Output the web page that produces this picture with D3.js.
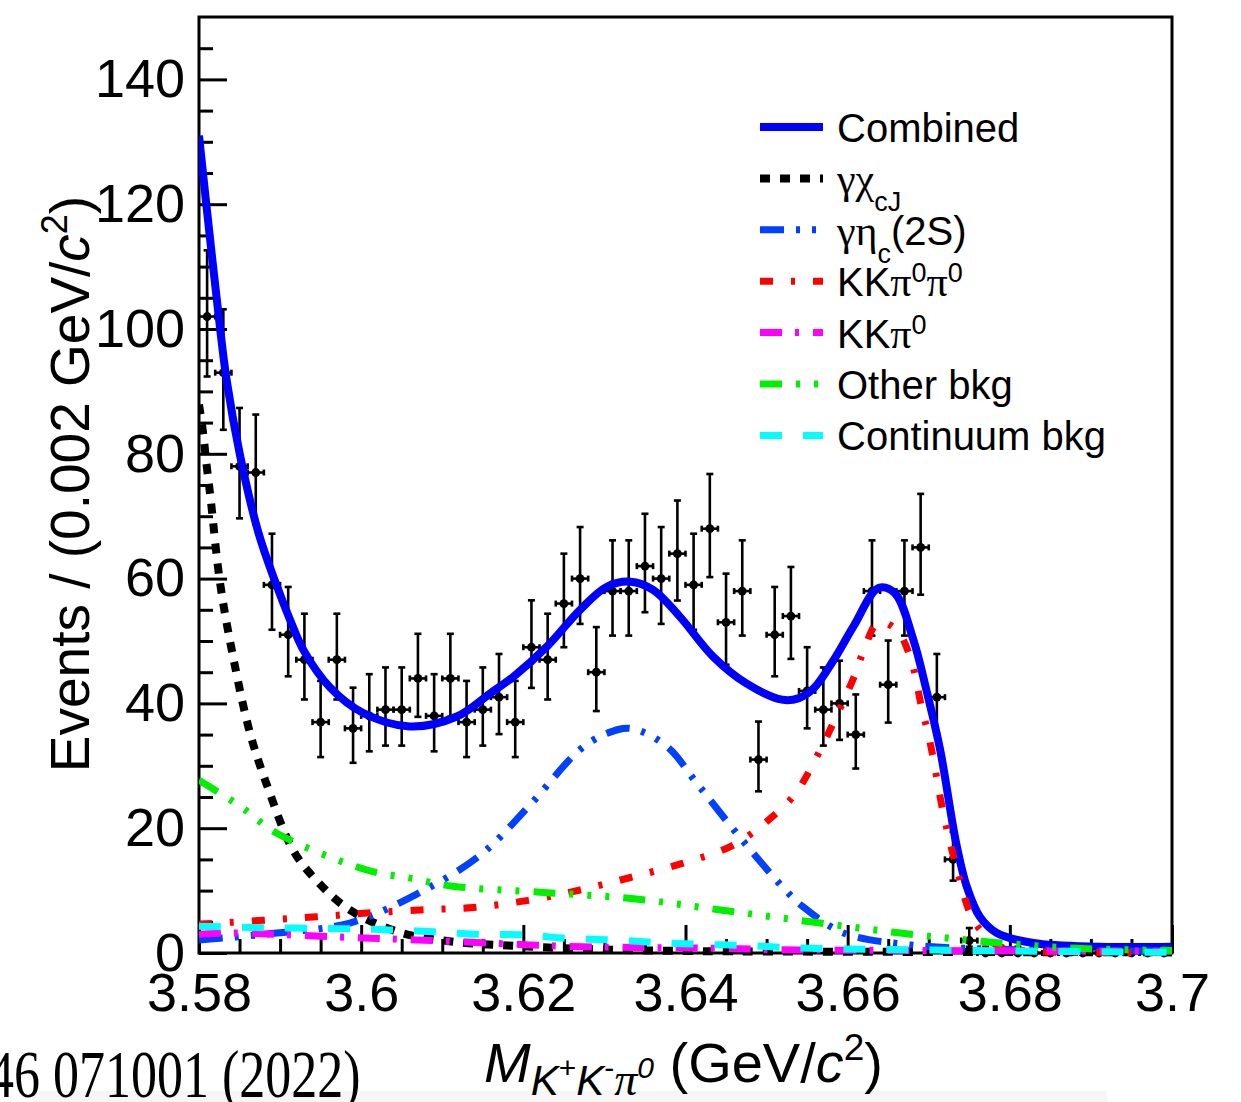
<!DOCTYPE html>
<html>
<head>
<meta charset="utf-8">
<script src="https://cdn.jsdelivr.net/npm/d3@7"></script>
<style>
  body { margin: 0; background: #fff; }
  svg { display: block; font-family: "Liberation Sans", Arial, Helvetica, sans-serif; }
</style>
</head>
<body>
<svg id="chart" width="1241" height="1102"></svg>
<script>
// ---- Data: M(K+K-pi0) spectrum, 0.002 GeV/c^2 bins ----
const binCentres = [
  3.581, 3.583, 3.585, 3.587, 3.589, 3.591, 3.593, 3.595, 3.597, 3.599,
  3.601, 3.603, 3.605, 3.607, 3.609, 3.611, 3.613, 3.615, 3.617, 3.619,
  3.621, 3.623, 3.625, 3.627, 3.629, 3.631, 3.633, 3.635, 3.637, 3.639,
  3.641, 3.643, 3.645, 3.647, 3.649, 3.651, 3.653, 3.655, 3.657, 3.659,
  3.661, 3.663, 3.665, 3.667, 3.669, 3.671, 3.673, 3.675, 3.677, 3.679,
  3.681, 3.683, 3.685, 3.687, 3.689, 3.691, 3.693, 3.695, 3.697, 3.699
];
const binHalfWidth = 0.001;
const counts = [
  102, 93, 78, 77, 59, 51, 47, 37, 47, 36,
  38, 39, 39, 44, 38, 44, 37, 39, 41, 37,
  49, 47, 56, 60, 45, 58, 58, 62, 60, 64,
  59, 68, 53, 58, 31, 51, 54, 42, 39, 40,
  35, 58, 43, 58, 65, 41, 15, 2, 0, 0,
  0, 0, 0, 0, 0, 0, 0, 0, 0, 0
];

// Fit curves: [mass, events per bin]
const combinedCurve = [
  [3.5800,131],[3.5809,120],[3.5822,104.7],[3.5834,91.9],[3.5851,79.5],[3.5873,67.5],
  [3.5894,59.5],[3.5912,53.5],[3.5929,48.5],[3.5962,42.5],[3.6002,38.5],[3.6060,36.3],
  [3.6118,37.9],[3.6159,41.6],[3.6188,44.3],[3.6229,49.1],[3.6270,55],[3.6303,58.7],
  [3.6332,59.5],[3.6360,58.2],[3.6393,53.9],[3.6434,47.5],[3.6475,43.2],[3.6519,40.6],
  [3.6539,40.8],[3.6558,42.4],[3.6582,46.8],[3.6607,52.3],[3.6638,58.5],[3.6658,57.7],
  [3.6681,50.2],[3.6697,42.2],[3.6714,32.6],[3.6734,17.5],[3.6747,10.6],[3.6763,5.8],
  [3.6784,3.2],[3.6829,1.6],[3.6911,1.0],[3.7000,1.0]
];
const chiCJCurve = [
  [3.5800,87.9],[3.5805,83.4],[3.5809,78.6],[3.5814,73.2],[3.5826,59.3],[3.5842,47.5],
  [3.5863,35.2],[3.5883,27.2],[3.5916,16.5],[3.5945,11.6],[3.5986,6.9],[3.6048,3.3],
  [3.6114,1.8],[3.6181,1.2],[3.6245,0.8],[3.6311,0.5],[3.6418,0.3],[3.6603,0.2],[3.7000,0.1]
];
const etaC2SCurve = [
  [3.5800,2.1],[3.5896,3.2],[3.5986,4.8],[3.6068,9.4],[3.6147,15.7],[3.6208,23.7],
  [3.6270,32.6],[3.6303,35.2],[3.6332,36],[3.6377,33.1],[3.6414,27.2],[3.6463,19.2],
  [3.6521,10.4],[3.6545,7.4],[3.6595,3.2],[3.6677,1.3],[3.6788,0.6],[3.7000,0.3]
];
const kkPi0Pi0Curve = [
  [3.5800,4.6],[3.5945,5.8],[3.6007,6.4],[3.6073,6.9],[3.6138,7.3],[3.6204,8.4],
  [3.6270,10.1],[3.6332,12.1],[3.6397,14.4],[3.6459,17.3],[3.6512,22.4],[3.6537,25.8],
  [3.6566,32.5],[3.6582,36.8],[3.6609,44.6],[3.6619,48.2],[3.6638,53],[3.6660,51.8],
  [3.6677,47.5],[3.6691,39.5],[3.6702,33.5],[3.6718,22.4],[3.6734,13.8],[3.6753,5.8],
  [3.6771,2.6],[3.6788,1.0],[3.6825,0.3],[3.7000,0.1]
];
const kkPi0Curve = [
  [3.5800,3.0],[3.5842,3.2],[3.5965,2.6],[3.6068,2.1],[3.6208,1.3],[3.6274,1.0],
  [3.6335,0.9],[3.6434,0.75],[3.6541,0.5],[3.7000,0.3]
];
const otherBkgCurve = [
  [3.5800,27.7],[3.5851,23.5],[3.5896,19.2],[3.6007,13.3],[3.6064,11.9],[3.6113,10.7],
  [3.6225,9.7],[3.6336,8.7],[3.6443,6.9],[3.6554,5.0],[3.6665,3.2],[3.6771,1.8],
  [3.6882,0.75],[3.7000,0.4]
];
const continuumCurve = [
  [3.5800,4.3],[3.5863,4.1],[3.5974,3.9],[3.6036,3.7],[3.6089,3.4],[3.6144,3.0],
  [3.6200,2.9],[3.6254,2.35],[3.6311,2.1],[3.6365,1.65],[3.6418,1.4],[3.6476,1.2],
  [3.6529,0.85],[3.6554,0.75],[3.6788,0.35],[3.7000,0.1]
];

// Axis ticks
const xTickValues = [3.58, 3.60, 3.62, 3.64, 3.66, 3.68, 3.70];
const xTickLabels = ["3.58", "3.6", "3.62", "3.64", "3.66", "3.68", "3.7"];
const xMinorTicks = [3.585, 3.59, 3.595, 3.605, 3.61, 3.615, 3.625, 3.63, 3.635,
  3.645, 3.65, 3.655, 3.665, 3.67, 3.675, 3.685, 3.69, 3.695];
const yTickValues = [0, 20, 40, 60, 80, 100, 120, 140];
const yMinorTicks = [5, 10, 15, 25, 30, 35, 45, 50, 55, 65, 70, 75, 85, 90, 95,
  105, 110, 115, 125, 130, 135, 145];

// Curve styles (drawn in this order)
const components = [
  { key: "combined", data: combinedCurve, color: "#0000ff", width: 8, dash: null },
  { key: "chicj", data: chiCJCurve, color: "#000000", width: 8, dash: "10,10" },
  { key: "etac2s", data: etaC2SCurve, color: "#0040ff", width: 7, dash: "24,12,4,12,4,12" },
  { key: "kkpi0pi0", data: kkPi0Pi0Curve, color: "#ff0000", width: 7, dash: "13,18,4,18" },
  { key: "kkpi0", data: kkPi0Curve, color: "#ff00ff", width: 7, dash: "22,13,4,14" },
  { key: "other", data: otherBkgCurve, color: "#00f000", width: 7, dash: "22,14,4,14,4,14,4,14" },
  { key: "continuum", data: continuumCurve, color: "#00ffff", width: 7, dash: "22,21" }
];

// ---- Layout ----
const frame = { left: 199, right: 1172, top: 17, bottom: 953 };
const svg = d3.select("#chart");
const serif = '"Liberation Serif", "Times New Roman", serif';

const x = d3.scaleLinear().domain([3.58, 3.70]).range([frame.left, frame.right]);
const y = d3.scaleLinear().domain([0, 150]).range([frame.bottom, frame.top]);

// Faint strip along the bottom edge
svg.append("rect").attr("x", 33).attr("y", 1091).attr("width", 1074).attr("height", 11)
  .attr("fill", "#f6f6f6");

// Axes with inward ticks
const yAxis = svg.append("g").attr("transform", `translate(${frame.left},0)`)
  .call(d3.axisLeft(y).tickValues(yTickValues).tickSize(-28).tickPadding(14)
    .tickFormat(d3.format("d")));
const yMinor = svg.append("g").attr("transform", `translate(${frame.left},0)`)
  .call(d3.axisLeft(y).tickValues(yMinorTicks).tickSize(-14).tickFormat(""));
const xAxis = svg.append("g").attr("transform", `translate(0,${frame.bottom})`)
  .call(d3.axisBottom(x).tickValues(xTickValues).tickSize(-28).tickPadding(20)
    .tickFormat((d, i) => xTickLabels[i]));
const xMinor = svg.append("g").attr("transform", `translate(0,${frame.bottom})`)
  .call(d3.axisBottom(x).tickValues(xMinorTicks).tickSize(-14).tickFormat(""));

[yAxis, yMinor, xAxis, xMinor].forEach(g => {
  g.select(".domain").remove();
  g.selectAll(".tick line").attr("stroke", "#000").attr("stroke-width", 3);
  g.selectAll(".tick text").attr("fill", "#000").attr("font-size", 54)
    .attr("font-family", '"Liberation Sans", Arial, Helvetica, sans-serif');
});

// Frame
svg.append("rect")
  .attr("x", frame.left).attr("y", frame.top)
  .attr("width", frame.right - frame.left).attr("height", frame.bottom - frame.top)
  .attr("fill", "none").attr("stroke", "#000").attr("stroke-width", 3);

// Clip for plotted content
svg.append("clipPath").attr("id", "plotClip").append("rect")
  .attr("x", frame.left).attr("y", frame.top)
  .attr("width", frame.right - frame.left).attr("height", frame.bottom - frame.top + 8);

// ---- Data points with Poisson-style error bars ----
const points = binCentres.map((m, i) => {
  const n = counts[i];
  const s = Math.sqrt(n + 0.25);
  return { m, n, hi: n + s + 0.5, lo: Math.max(0, n - s + 0.5) };
});
const gData = svg.append("g").attr("clip-path", "url(#plotClip)")
  .attr("stroke", "#000").attr("stroke-width", 2.6);
const pt = gData.selectAll("g.pt").data(points).join("g").attr("class", "pt");
pt.append("line")
  .attr("x1", d => x(d.m)).attr("x2", d => x(d.m))
  .attr("y1", d => y(d.lo)).attr("y2", d => y(d.hi));
pt.append("line")
  .attr("x1", d => x(d.m - binHalfWidth)).attr("x2", d => x(d.m + binHalfWidth))
  .attr("y1", d => y(d.n)).attr("y2", d => y(d.n));
pt.append("line")
  .attr("x1", d => x(d.m) - 3.5).attr("x2", d => x(d.m) + 3.5)
  .attr("y1", d => y(d.hi)).attr("y2", d => y(d.hi));
pt.append("line")
  .attr("x1", d => x(d.m) - 3.5).attr("x2", d => x(d.m) + 3.5)
  .attr("y1", d => y(d.lo)).attr("y2", d => y(d.lo));
pt.append("line")
  .attr("x1", d => x(d.m - binHalfWidth)).attr("x2", d => x(d.m - binHalfWidth))
  .attr("y1", d => y(d.n) - 3).attr("y2", d => y(d.n) + 3);
pt.append("line")
  .attr("x1", d => x(d.m + binHalfWidth)).attr("x2", d => x(d.m + binHalfWidth))
  .attr("y1", d => y(d.n) - 3).attr("y2", d => y(d.n) + 3);
pt.append("circle")
  .attr("cx", d => x(d.m)).attr("cy", d => y(d.n)).attr("r", 4.4)
  .attr("fill", "#000").attr("stroke", "none");

// ---- Fit curves ----
const line = d3.line().x(d => x(d[0])).y(d => y(d[1])).curve(d3.curveCatmullRom.alpha(0.5));
const gCurves = svg.append("g").attr("clip-path", "url(#plotClip)");
components.forEach(c => {
  gCurves.append("path")
    .attr("d", line(c.data))
    .attr("fill", "none")
    .attr("stroke", c.color)
    .attr("stroke-width", c.width)
    .attr("stroke-dasharray", c.dash)
    .attr("stroke-linecap", "butt")
    .attr("stroke-linejoin", "round");
});

// Rich text helper: parts are [text, {size, dy (baseline offset), italic, serif}]
function richText(sel, parts) {
  let cur = 0;
  parts.forEach(([txt, o = {}]) => {
    const off = o.dy || 0;
    const ts = sel.append("tspan").text(txt);
    if (off !== cur) ts.attr("dy", off - cur);
    cur = off;
    if (o.size) ts.attr("font-size", o.size);
    if (o.italic) ts.attr("font-style", "italic");
    if (o.serif) ts.attr("font-family", serif);
  });
}

// ---- Legend ----
const legendLabels = [
  [["Combined"]],
  [["γχ", { serif: true, size: 42 }], ["cJ", { size: 27, dy: 18 }]],
  [["γη", { serif: true, size: 42 }], ["c", { size: 27, dy: 18 }], ["(2S)"]],
  [["KK"], ["π", { serif: true, size: 42 }], ["0", { size: 27, dy: -14 }],
   ["π", { serif: true, size: 42 }], ["0", { size: 27, dy: -14 }]],
  [["KK"], ["π", { serif: true, size: 42 }], ["0", { size: 27, dy: -14 }]],
  [["Other bkg"]],
  [["Continuum bkg"]]
];
const legend = svg.append("g");
components.forEach((c, i) => {
  const cy = 127 + i * 51.4;
  legend.append("line")
    .attr("x1", 760).attr("x2", 823).attr("y1", cy).attr("y2", cy)
    .attr("stroke", c.color).attr("stroke-width", c.width)
    .attr("stroke-dasharray", c.dash);
  const t = legend.append("text").attr("x", 837).attr("y", cy + 15)
    .attr("font-size", 40).attr("fill", "#000");
  richText(t, legendLabels[i]);
});

// ---- Axis titles ----
const yTitle = svg.append("text")
  .attr("transform", "translate(89,484) rotate(-90)")
  .attr("text-anchor", "middle").attr("font-size", 55).attr("fill", "#000");
richText(yTitle, [
  ["Events / (0.002 GeV/"], ["c", { italic: true }], ["2", { size: 36, dy: -22 }], [")"]
]);

const xTitle = svg.append("text").attr("x", 484).attr("y", 1082)
  .attr("font-size", 56).attr("fill", "#000");
richText(xTitle, [
  ["M", { italic: true }],
  ["K", { italic: true, size: 42, dy: 13 }],
  ["+", { size: 30, dy: -4 }],
  ["K", { italic: true, size: 42, dy: 13 }],
  ["-", { size: 30, dy: -4 }],
  ["π", { italic: true, serif: true, size: 46, dy: 13 }],
  ["0", { italic: true, size: 30, dy: -4 }],
  ["\u00a0(GeV/"], ["c", { italic: true }], ["2", { size: 37, dy: -22 }], [")"]
]);

// Journal reference fragment at the lower left
svg.append("text")
  .attr("transform", "translate(-12,1097) scale(1,1.3)")
  .attr("font-family", serif).attr("font-size", 52).attr("fill", "#000")
  .text("46 071001 (2022)");
</script>
</body>
</html>
